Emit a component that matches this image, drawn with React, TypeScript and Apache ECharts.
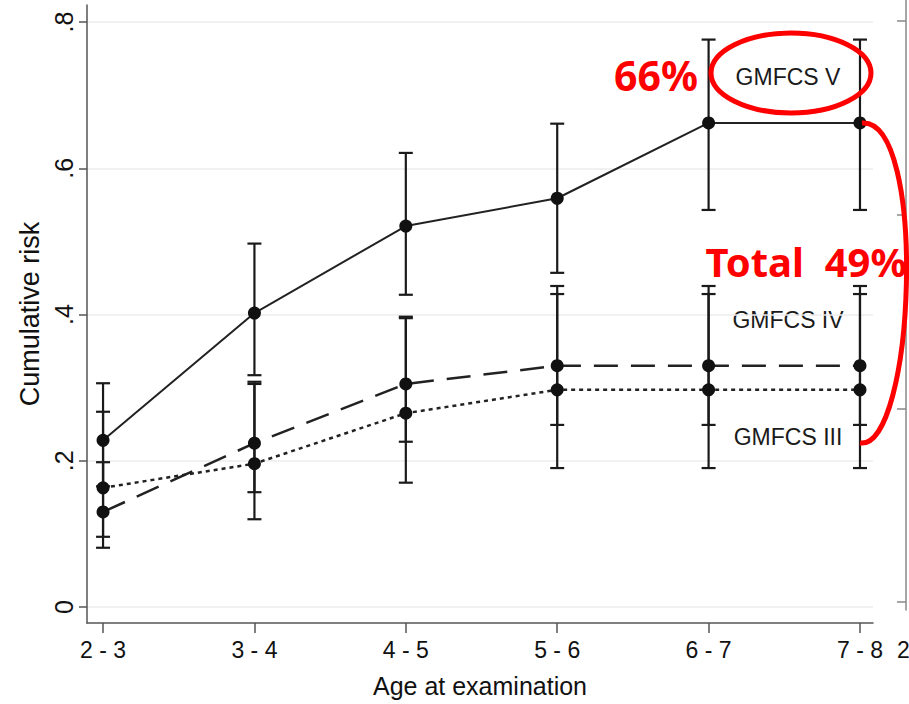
import React, { useEffect, useRef } from "react";
import * as echarts from "echarts";

// ---- data ----
const categories = ["2 - 3", "3 - 4", "4 - 5", "5 - 6", "6 - 7", "7 - 8"];
const yTickValues = [0, 0.2, 0.4, 0.6, 0.8];
const yTickLabels = ["0", ".2", ".4", ".6", ".8"];
const rightTickValues = [0, 0.2, 0.4, 0.6];

const gmfcsV = [0.228, 0.402, 0.521, 0.559, 0.662, 0.662];
const gmfcsVLow = [0.165, 0.317, 0.427, 0.457, 0.543, 0.543];
const gmfcsVHigh = [0.306, 0.497, 0.621, 0.661, 0.776, 0.776];

const gmfcsIV = [0.13, 0.224, 0.305, 0.33, 0.33, 0.33];
const gmfcsIVLow = [0.081, 0.12, 0.226, 0.249, 0.249, 0.249];
const gmfcsIVHigh = [0.198, 0.308, 0.397, 0.439, 0.439, 0.439];

const gmfcsIII = [0.163, 0.196, 0.265, 0.297, 0.297, 0.297];
const gmfcsIIILow = [0.096, 0.157, 0.17, 0.19, 0.19, 0.19];
const gmfcsIIIHigh = [0.267, 0.305, 0.395, 0.428, 0.428, 0.428];

const FONT = "'Liberation Sans', Arial, Helvetica, sans-serif";
const RED = "#ff0000";

function errorSeries(low: number[], high: number[]) {
  return {
    type: "custom",
    xAxisIndex: 0,
    yAxisIndex: 0,
    z: 2,
    silent: true,
    data: low.map((l, i) => [i, l, high[i]]),
    encode: { x: 0, y: [1, 2] },
    renderItem: (params: any, api: any) => {
      const x = api.value(0);
      const lo = api.coord([x, api.value(1)]);
      const hi = api.coord([x, api.value(2)]);
      const w = 7;
      const style = { stroke: "#1a1a1a", lineWidth: 2.2 };
      return {
        type: "group",
        children: [
          { type: "line", shape: { x1: lo[0], y1: lo[1], x2: hi[0], y2: hi[1] }, style },
          { type: "line", shape: { x1: lo[0] - w, y1: lo[1], x2: lo[0] + w, y2: lo[1] }, style },
          { type: "line", shape: { x1: hi[0] - w, y1: hi[1], x2: hi[0] + w, y2: hi[1] }, style },
        ],
      };
    },
  };
}

function lineSeries(name: string, values: number[], lineType: any, width: number) {
  return {
    name,
    type: "line",
    xAxisIndex: 0,
    yAxisIndex: 0,
    z: 3,
    silent: true,
    data: values.map((v, i) => [i, v]),
    symbol: "circle",
    symbolSize: 13,
    itemStyle: { color: "#111" },
    lineStyle: { color: "#222", width, type: lineType },
  };
}

export default function App() {
  const ref = useRef<HTMLDivElement>(null);

  useEffect(() => {
    if (!ref.current) return;
    const chart = echarts.init(ref.current, null, { renderer: "svg" });
    const option: any = {
      animation: false,
      backgroundColor: "#ffffff",
      grid: [
        { left: 87, right: 36, top: 5, bottom: 81, outerBoundsMode: "none" },
        { left: 906, width: 3, top: 0, bottom: 94, outerBoundsMode: "none" },
      ],
      xAxis: [
        {
          gridIndex: 0,
          type: "value",
          min: -0.106,
          max: 5.086,
          name: "Age at examination",
          nameLocation: "middle",
          nameGap: 50,
          nameTextStyle: { fontFamily: FONT, fontSize: 25, color: "#111" },
          axisLine: { show: true, onZero: false, lineStyle: { color: "#555", width: 1.5 } },
          axisTick: { show: true, length: 10, customValues: [0, 1, 2, 3, 4, 5], lineStyle: { color: "#555", width: 1.5 } },
          axisLabel: {
            customValues: [0, 1, 2, 3, 4, 5],
            formatter: (v: number) => categories[Math.round(v)] ?? "",
            fontFamily: FONT,
            fontSize: 23,
            color: "#111",
            margin: 15,
          },
          splitLine: { show: false },
        },
        { gridIndex: 1, type: "value", show: false, min: 0, max: 1 },
      ],
      yAxis: [
        {
          gridIndex: 0,
          type: "value",
          min: -0.0219,
          max: 0.8233,
          name: "Cumulative risk",
          nameLocation: "middle",
          nameGap: 40,
          nameTextStyle: { fontFamily: FONT, fontSize: 27, color: "#111" },
          axisLine: { show: true, onZero: false, lineStyle: { color: "#555", width: 1.5 } },
          axisTick: { show: true, length: 8, customValues: yTickValues, lineStyle: { color: "#555", width: 1.5 } },
          axisLabel: {
            customValues: yTickValues,
            formatter: (v: number) => {
              const idx = yTickValues.findIndex((t) => Math.abs(t - v) < 1e-6);
              return idx >= 0 ? yTickLabels[idx] : "";
            },
            rotate: 90,
            fontFamily: FONT,
            fontSize: 25,
            color: "#111",
            margin: 11,
          },
          splitLine: { show: true, lineStyle: { color: "#ececec", width: 1.5 } },
        },
        {
          gridIndex: 1,
          type: "value",
          min: -0.00826,
          max: 0.6217,
          axisLine: { show: true, onZero: false, lineStyle: { color: "#888", width: 1.5 } },
          axisTick: { show: true, length: 9, customValues: rightTickValues, lineStyle: { color: "#888", width: 1.5 } },
          axisLabel: { show: false },
          splitLine: { show: false },
        },
      ],
      series: [
        errorSeries(gmfcsVLow, gmfcsVHigh),
        errorSeries(gmfcsIVLow, gmfcsIVHigh),
        errorSeries(gmfcsIIILow, gmfcsIIIHigh),
        lineSeries("GMFCS V", gmfcsV, "solid", 2),
        lineSeries("GMFCS IV", gmfcsIV, [24, 13], 2.5),
        lineSeries("GMFCS III", gmfcsIII, [4, 4], 2.5),
      ],
      graphic: [
        { type: "text", x: 788, y: 77, style: { text: "GMFCS V", fontFamily: FONT, fontSize: 23, fill: "#1a1a1a", align: "center", verticalAlign: "middle" } },
        { type: "text", x: 788, y: 320, style: { text: "GMFCS IV", fontFamily: FONT, fontSize: 23, fill: "#1a1a1a", align: "center", verticalAlign: "middle" } },
        { type: "text", x: 788, y: 437, style: { text: "GMFCS III", fontFamily: FONT, fontSize: 23, fill: "#1a1a1a", align: "center", verticalAlign: "middle" } },
        { type: "text", x: 897, y: 650, style: { text: "2", fontFamily: FONT, fontSize: 23, fill: "#111", align: "left", verticalAlign: "middle" } },
        { type: "ellipse", shape: { cx: 791, cy: 73, rx: 80, ry: 40 }, style: { stroke: RED, lineWidth: 5, fill: "transparent" }, z: 10 },
        { type: "text", x: 656, y: 75, z: 10, style: { text: "66%", fontFamily: "'Noto Sans', sans-serif", fontWeight: "bold", fontSize: 41, fill: RED, align: "center", verticalAlign: "middle" } },
        { type: "text", x: 806, y: 261, z: 10, style: { text: "Total  49%", fontFamily: "'Noto Sans', sans-serif", fontWeight: "bold", fontSize: 40, fill: RED, align: "center", verticalAlign: "middle" } },
        {
          type: "bezierCurve",
          z: 10,
          shape: { x1: 862, y1: 123, cpx1: 928, cpy1: 118, cpx2: 915, cpy2: 450, x2: 860, y2: 443 },
          style: { stroke: RED, lineWidth: 5, fill: "transparent" },
        },
      ],
    };
    chart.setOption(option);
    return () => chart.dispose();
  }, []);

  return (
    <div
      ref={ref}
      style={{ position: "fixed", left: 0, top: 0, width: 909, height: 704, background: "#fff" }}
    />
  );
}
